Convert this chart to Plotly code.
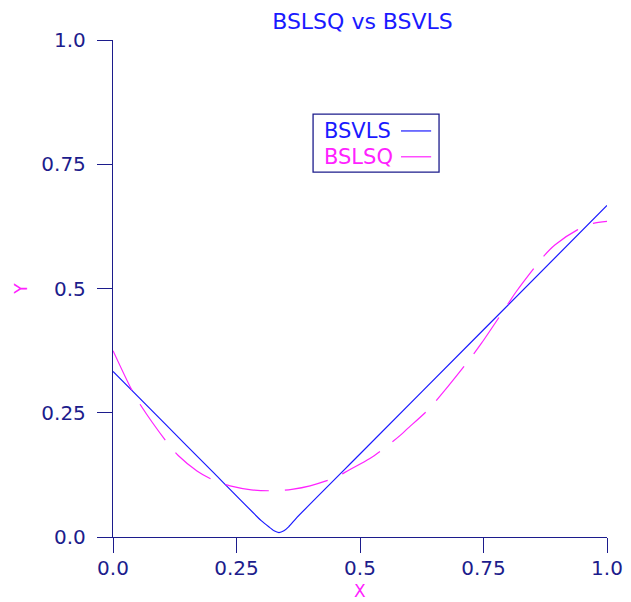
import plotly.graph_objects as go

# Variable-knot least-squares spline fit (BSVLS)
vls_x = [0.0, 0.10, 0.20, 0.30, 0.316, 0.326, 0.336, 0.346, 0.356, 0.372, 0.50, 0.75, 1.0]
vls_y = [0.333, 0.233, 0.133, 0.033, 0.020, 0.0125, 0.009, 0.0125, 0.021, 0.039, 0.167, 0.417, 0.667]

# Fixed-knot least-squares spline fit (BSLSQ)
lsq_x = [0.0, 0.038, 0.058, 0.111, 0.132, 0.170, 0.208, 0.237, 0.280, 0.328, 0.362, 0.399,
         0.451, 0.478, 0.520, 0.556, 0.582, 0.595, 0.638, 0.669, 0.726, 0.746, 0.797,
         0.815, 0.871, 0.895, 0.940, 0.972, 1.0]
lsq_y = [0.375, 0.296, 0.262, 0.188, 0.164, 0.133, 0.112, 0.103, 0.095, 0.093, 0.096, 0.103,
         0.120, 0.135, 0.158, 0.184, 0.205, 0.217, 0.256, 0.292, 0.363, 0.390, 0.465,
         0.492, 0.564, 0.588, 0.618, 0.631, 0.635]

tick_vals = [0.0, 0.25, 0.5, 0.75, 1.0]
tick_text = ["0.0", "0.25", "0.5", "0.75", "1.0"]

NAVY = "#1c1c8c"
BLUE = "#1a1aff"
MAGENTA = "#ff22ff"
FONT = "DejaVu Sans"

fig = go.Figure()
fig.add_trace(go.Scatter(x=vls_x, y=vls_y, mode="lines", name="BSVLS",
                         line=dict(color=BLUE, width=1.2, shape="spline", smoothing=0.5)))
fig.add_trace(go.Scatter(x=lsq_x, y=lsq_y, mode="lines", name="BSLSQ",
                         line=dict(color=MAGENTA, width=1.2, dash="44px,16px",
                                   shape="spline", smoothing=0.8)))

axis_common = dict(range=[0, 1], tickvals=tick_vals, ticktext=tick_text, automargin=False,
                   showgrid=False, zeroline=False, showline=True, linecolor=NAVY,
                   linewidth=1.3, ticks="outside", ticklen=15, tickwidth=1.3,
                   tickcolor=NAVY, tickfont=dict(family=FONT, size=20, color=NAVY))

fig.update_layout(
    width=631, height=602,
    margin=dict(l=113, r=24, t=40, b=65),
    paper_bgcolor="white", plot_bgcolor="white",
    showlegend=False,
    title=dict(text="BSLSQ vs BSVLS", x=0.5745, xanchor="center", y=0.965, yanchor="middle",
               font=dict(family=FONT, size=22, color=BLUE)),
    xaxis=dict(**axis_common, ticklabelstandoff=-2),
    yaxis=dict(**axis_common, ticklabelstandoff=7),
)

# Axis titles
fig.add_annotation(text="X", xref="paper", yref="paper", x=0.5, y=-0.1308,
                   xanchor="center", yanchor="bottom", showarrow=False, borderpad=0,
                   font=dict(family=FONT, size=17, color=MAGENTA))
fig.add_annotation(text="Y", xref="paper", yref="paper", x=-0.188, y=0.5, textangle=-90,
                   xanchor="center", yanchor="middle", showarrow=False,
                   font=dict(family=FONT, size=17, color=MAGENTA))

# Legend box drawn with text first, line sample after
fig.add_shape(type="rect", xref="paper", yref="paper", x0=0.405, x1=0.660, y0=0.734, y1=0.851,
              line=dict(color=NAVY, width=1.3))
legend_rows = [("BSVLS", BLUE, 0.817), ("BSLSQ", MAGENTA, 0.765)]
for label, color, ypos in legend_rows:
    fig.add_annotation(text=label, xref="paper", yref="paper", x=0.424, y=ypos,
                       xanchor="left", yanchor="middle", showarrow=False,
                       font=dict(family=FONT, size=21, color=color))
    fig.add_shape(type="line", xref="paper", yref="paper", x0=0.583, x1=0.644, y0=ypos, y1=ypos,
                  line=dict(color=color, width=1.2))

fig.write_html("out.html")
